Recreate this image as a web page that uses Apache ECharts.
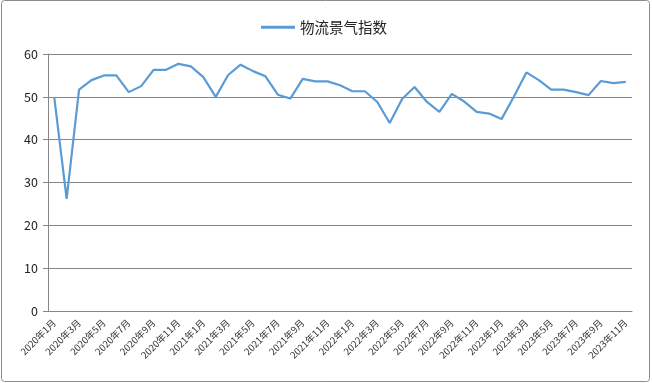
<!DOCTYPE html>
<html><head><meta charset="utf-8">
<script src="https://cdn.jsdelivr.net/npm/echarts@6/dist/echarts.min.js"></script>
<style>html,body{margin:0;padding:0;background:#fff}#c{width:652px;height:383px}</style>
</head><body><div id="c"></div>
<script>
const seriesName = '物流景气指数';
const categories = [];
for (let y = 2020; y <= 2023; y++) for (let m = 1; m <= 12; m++) { if (y === 2023 && m > 11) break; categories.push(y + '年' + m + '月'); }
const values = [50.0,26.2,51.7,53.9,55.0,55.0,51.1,52.5,56.3,56.3,57.7,57.1,
  54.6,50.0,55.1,57.5,56.0,54.8,50.5,49.6,54.2,53.6,53.6,52.7,
  51.3,51.3,48.8,43.9,49.5,52.3,48.8,46.5,50.7,48.9,46.5,46.1,
  44.8,50.1,55.7,53.9,51.7,51.7,51.1,50.4,53.7,53.2,53.5];
const yTicks = {min:0,max:60,interval:10};
const chart = echarts.init(document.getElementById('c'));
chart.setOption({
  animation:false,
  textStyle:{fontFamily:'"Noto Sans CJK SC", sans-serif'},
  graphic:[{type:'rect',shape:{x:1.5,y:0.5,width:648,height:381,r:3},style:{fill:'none',stroke:'#8c8c8c',lineWidth:1}}],
  legend:{top:15,left:256,itemWidth:34,itemHeight:3,icon:'rect',itemGap:8,
    textStyle:{fontSize:14.5,color:'#222',fontFamily:'"Noto Sans CJK SC", sans-serif'},data:[seriesName]},
  grid:{left:48,right:20,top:54,bottom:72},
  xAxis:{type:'category',data:categories,boundaryGap:true,
    axisLine:{lineStyle:{color:'#868686'}},
    axisTick:{interval:1,length:5,lineStyle:{color:'#868686'}},
    axisLabel:{interval:1,rotate:45,fontSize:9.5,color:'#333',margin:10}},
  yAxis:{type:'value',min:yTicks.min,max:yTicks.max,interval:yTicks.interval,
    axisLine:{show:true,lineStyle:{color:'#868686'}},
    axisTick:{show:true,length:5,lineStyle:{color:'#868686'}},
    splitLine:{lineStyle:{color:'#868686'}},
    axisLabel:{fontSize:12.5,color:'#222',margin:10}},
  series:[{name:seriesName,type:'line',data:values,symbol:'none',
    lineStyle:{color:'#5b9bd5',width:2.2},itemStyle:{color:'#5b9bd5'}}]
});
</script></body></html>
